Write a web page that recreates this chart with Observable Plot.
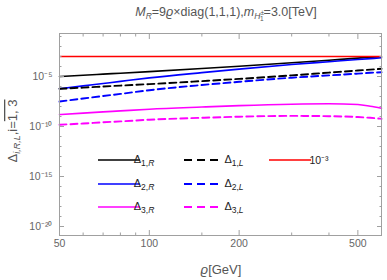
<!DOCTYPE html>
<html>
<head>
<meta charset="utf-8">
<script src="https://cdn.jsdelivr.net/npm/d3@7"></script>
<script src="https://cdn.jsdelivr.net/npm/@observablehq/plot@0.6"></script>
<style>
  html, body { margin: 0; padding: 0; background: #fff; }
</style>
</head>
<body>
<div id="chart"></div>
<script>
// ϱ [GeV]
const rho = [50, 60, 70, 80, 100, 150, 200, 300, 400, 500, 550, 600];
// Δ values
const delta1R = [1.0e-5, 1.35e-5, 1.74e-5, 2.14e-5, 3.09e-5, 6.31e-5, 1.07e-4, 2.34e-4, 4.27e-4, 6.92e-4, 8.32e-4, 9.33e-4];
const delta2R = [5.89e-7, 1.15e-6, 2.0e-6, 3.24e-6, 7.24e-6, 2.45e-5, 5.50e-5, 1.58e-4, 3.02e-4, 5.01e-4, 6.17e-4, 7.41e-4];
const delta3R = [1.58e-9, 2.19e-9, 2.88e-9, 3.63e-9, 5.37e-9, 8.91e-9, 1.23e-8, 1.70e-8, 1.86e-8, 1.58e-8, 1.07e-8, 6.76e-9];
const delta1L = [5.89e-7, 7.76e-7, 1.0e-6, 1.23e-6, 1.74e-6, 3.47e-6, 5.75e-6, 1.29e-5, 2.45e-5, 3.98e-5, 4.90e-5, 5.89e-5];
const delta2L = [3.16e-8, 6.31e-8, 1.12e-7, 1.82e-7, 4.27e-7, 1.41e-6, 2.95e-6, 7.59e-6, 1.29e-5, 1.95e-5, 2.34e-5, 2.69e-5];
const delta3L = [1.48e-10, 2.0e-10, 2.63e-10, 3.24e-10, 4.79e-10, 7.41e-10, 9.55e-10, 1.15e-9, 1.07e-9, 8.91e-10, 7.41e-10, 5.89e-10];
const reference = [1e-3];

const seriesKeys = ["1,R", "1,L", "2,R", "2,L", "3,R", "3,L"];
const seriesValues = [delta1R, delta1L, delta2R, delta2L, delta3R, delta3L];
const seriesColors = ["#000000", "#000000", "#0000ff", "#0000ff", "#ff00ff", "#ff00ff"];
const seriesDashed = [false, true, false, true, false, true];

// axis ticks
const xMajor = [50, 100, 200, 500];
const xMinor = [60, 70, 80, 90, 150, 300, 400];
const yMajor = [1e-5, 1e-10, 1e-15, 1e-20];
const yMinor = [1e-1, 1e-2, 1e-3, 1e-4, 1e-6, 1e-7, 1e-8, 1e-9, 1e-11, 1e-12, 1e-13, 1e-14, 1e-16, 1e-17, 1e-18, 1e-19];

const supMap = {"-": "⁻", "0": "⁰", "1": "¹", "2": "²", "3": "³", "4": "⁴", "5": "⁵", "6": "⁶", "7": "⁷", "8": "⁸", "9": "⁹"};
const sup = s => String(s).split("").map(c => supMap[c]).join("");
const powFmt = v => "10" + sup(Math.round(Math.log10(v)));

const tables = seriesValues.map((vals, k) => rho.map((r, i) => ({rho: r, value: vals[i], key: seriesKeys[k]})));

const frameColor = "#a0a0a0";
const textColor = "#666666";
const font = "'Liberation Sans', Arial, Helvetica, sans-serif";

const marks = [];
const drawOrder = [0, 2, 4, 1, 3, 5];
for (const k of drawOrder) {
  marks.push(Plot.line(tables[k], {
    x: "rho", y: "value",
    stroke: seriesColors[k],
    strokeWidth: seriesDashed[k] ? 1.9 : 1.6,
    strokeDasharray: seriesDashed[k] ? "7,4" : null,
    curve: "monotone-x"
  }));
}
marks.push(Plot.ruleY(reference, {stroke: "#ff0000", strokeWidth: 1.6}));
marks.push(Plot.frame({stroke: frameColor}));
// inward ticks on all four sides
for (const anchor of ["left", "right"]) {
  marks.push(Plot.axisY(yMajor, {anchor, tickSize: -5, tickFormat: () => "", stroke: frameColor}));
  marks.push(Plot.axisY(yMinor, {anchor, tickSize: -2.5, tickFormat: () => "", stroke: frameColor}));
}
for (const anchor of ["bottom", "top"]) {
  marks.push(Plot.axisX(xMajor, {anchor, tickSize: -5, tickFormat: () => "", stroke: frameColor}));
  marks.push(Plot.axisX(xMinor, {anchor, tickSize: -2.5, tickFormat: () => "", stroke: frameColor}));
}
// tick labels
marks.push(Plot.axisY(yMajor, {anchor: "left", tickSize: 0, tickPadding: 7, tickFormat: powFmt, fill: textColor, fontSize: 10.5}));
marks.push(Plot.text(xMajor, {x: d => d, frameAnchor: "bottom", dy: 11, text: d => String(d), fill: textColor, fontSize: 10.5}));

const chart = Plot.plot({
  width: 387,
  height: 280,
  marginLeft: 59,
  marginRight: 6,
  marginTop: 33,
  marginBottom: 45,
  style: {fontFamily: font, fontSize: "10.5px", background: "#fff", overflow: "visible"},
  x: {type: "log", domain: [50, 600], label: null},
  y: {type: "log", domain: [1.26e-21, 0.2], label: null},
  marks
});

const svg = d3.select(chart);

// title
const title = svg.append("text")
  .attr("x", 226).attr("y", 16)
  .attr("text-anchor", "middle")
  .attr("fill", "#555")
  .attr("font-family", font)
  .attr("font-size", 12.5);
title.append("tspan").attr("font-style", "italic").text("M");
title.append("tspan").attr("font-style", "italic").attr("font-size", 8.5).attr("dy", 3).text("R");
title.append("tspan").attr("dy", -3).text("=9");
title.append("tspan").attr("font-style", "italic").text("ϱ");
title.append("tspan").text("×diag(1,1,1),");
title.append("tspan").attr("font-style", "italic").text("m");
title.append("tspan").attr("font-style", "italic").attr("font-size", 8.5).attr("dy", 3).text("H");
title.append("tspan").attr("font-size", 6.5).attr("dy", -4).text("±");
title.append("tspan").attr("font-size", 6.5).attr("dx", -4).attr("dy", 6).text("1");
title.append("tspan").attr("dy", -5).text("=3.0[TeV]");

// y label
const ylab = svg.append("text")
  .attr("transform", "translate(17,131) rotate(-90)")
  .attr("text-anchor", "middle")
  .attr("fill", "#555")
  .attr("font-family", font)
  .attr("font-size", 13);
ylab.append("tspan").text("Δ");
ylab.append("tspan").attr("font-style", "italic").attr("font-size", 9).attr("dy", 3).text("i,R,L");
ylab.append("tspan").attr("dy", -3).text(",");
ylab.append("tspan").text("i=");
ylab.append("tspan").style("text-decoration", "overline").text("1, 3");

// x label
const xlab = svg.append("text")
  .attr("x", 221).attr("y", 274)
  .attr("text-anchor", "middle")
  .attr("fill", "#555")
  .attr("font-family", font)
  .attr("font-size", 13);
xlab.append("tspan").attr("font-style", "italic").text("ϱ");
xlab.append("tspan").text("[GeV]");

// legend
const legendRows = [160, 184, 207];
const legendCols = [{x0: 98, x1: 140, tx: 144}, {x0: 184, x1: 222, tx: 234}];
const lg = svg.append("g").attr("font-family", font);
seriesKeys.forEach((key, k) => {
  const row = Math.floor(k / 2), col = k % 2;
  const y = legendRows[row], c = legendCols[col];
  lg.append("line")
    .attr("x1", c.x0).attr("x2", c.x1).attr("y1", y).attr("y2", y)
    .attr("stroke", seriesColors[k])
    .attr("stroke-width", seriesDashed[k] ? 1.9 : 1.6)
    .attr("stroke-dasharray", seriesDashed[k] ? "8,5" : null);
  const t = lg.append("text").attr("x", c.tx).attr("y", y + 3).attr("font-size", 11).attr("fill", "#222");
  const [num, side] = key.split(",");
  t.append("tspan").text("Δ");
  t.append("tspan").attr("font-size", 8.5).attr("dy", 3).text(num + ",");
  t.append("tspan").attr("font-size", 8.5).attr("font-style", "italic").text(side);
});
lg.append("line")
  .attr("x1", 269).attr("x2", 311).attr("y1", legendRows[0]).attr("y2", legendRows[0])
  .attr("stroke", "#ff0000").attr("stroke-width", 1.6);
lg.append("text").attr("x", 319).attr("y", legendRows[0] + 4).attr("font-size", 10.5).attr("fill", "#222")
  .text(powFmt(reference[0]));

document.getElementById("chart").appendChild(chart);
</script>
</body>
</html>
